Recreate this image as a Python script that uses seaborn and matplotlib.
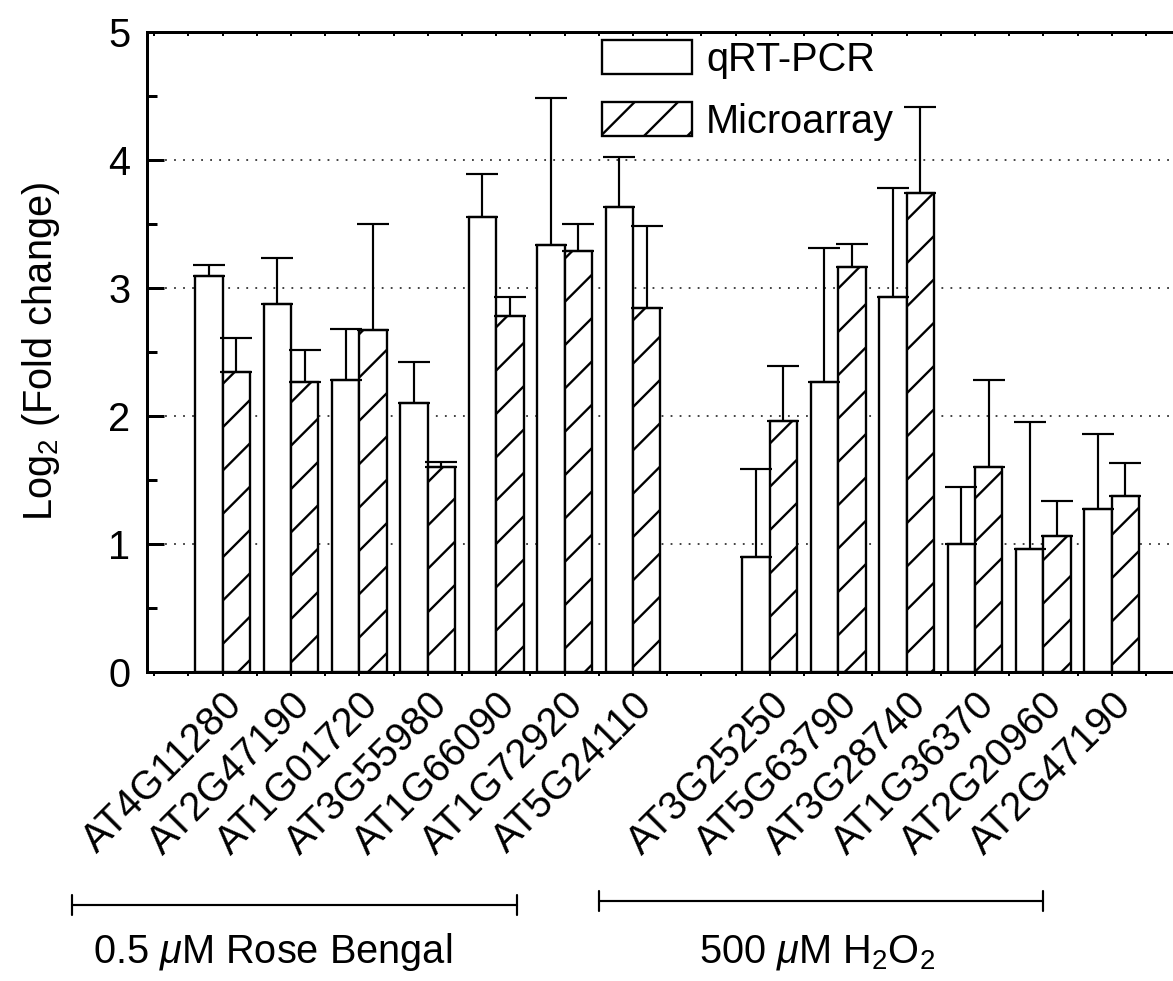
import numpy as np
import pandas as pd
import matplotlib
matplotlib.use("Agg")
import matplotlib.pyplot as plt
import matplotlib.patches as mpatches
from matplotlib.ticker import MultipleLocator
from matplotlib.transforms import blended_transform_factory
import seaborn as sns

# Data
genes = ["AT4G11280", "AT2G47190", "AT1G01720", "AT3G55980", "AT1G66090", "AT1G72920", "AT5G24110",
         "AT3G25250", "AT5G63790", "AT3G28740", "AT1G36370", "AT2G20960", "AT2G47190"]
positions = [1, 2, 3, 4, 5, 6, 7, 9, 10, 11, 12, 13, 14]
qrt_pcr = [3.09, 2.87, 2.28, 2.10, 3.55, 3.33, 3.63, 0.90, 2.26, 2.93, 1.00, 0.96, 1.27]
qrt_err = [0.09, 0.36, 0.40, 0.32, 0.34, 1.15, 0.39, 0.68, 1.05, 0.85, 0.44, 0.99, 0.59]
microarray = [2.34, 2.26, 2.67, 1.60, 2.78, 3.29, 2.84, 1.96, 3.16, 3.74, 1.60, 1.06, 1.37]
micro_err = [0.27, 0.25, 0.83, 0.04, 0.15, 0.21, 0.64, 0.43, 0.18, 0.67, 0.68, 0.27, 0.26]
series = ["qRT-PCR", "Microarray"]
groups = ["0.5 $\\mu$M Rose Bengal", "500 $\\mu$M H$_2$O$_2$"]

df = pd.DataFrame({
    "pos": positions * 2,
    "value": qrt_pcr + microarray,
    "series": [series[0]] * len(genes) + [series[1]] * len(genes),
})

sns.set_theme(style="white")
plt.rcParams["font.family"] = ["Liberation Sans", "DejaVu Sans"]
plt.rcParams["mathtext.fontset"] = "custom"
plt.rcParams["mathtext.rm"] = "Liberation Sans"
plt.rcParams["mathtext.it"] = "Liberation Sans:italic"
plt.rcParams["hatch.linewidth"] = 1.3
plt.rcParams["text.color"] = "black"
plt.rcParams["axes.labelcolor"] = "black"
plt.rcParams["xtick.color"] = "black"
plt.rcParams["ytick.color"] = "black"

DPI = 130
fig = plt.figure(figsize=(1173 / DPI, 981 / DPI), dpi=DPI)
ax = fig.add_axes([147.3 / 1173, 309.3 / 981, 1039.7 / 1173, 640 / 981])

sns.barplot(data=df, x="pos", y="value", hue="series", native_scale=True, width=0.8,
            errorbar=None, palette=["white", "white"], saturation=1,
            edgecolor="black", linewidth=1.3, legend=False, ax=ax)
for bar in ax.containers[1]:
    bar.set_hatch("/")

pos = np.array(positions, dtype=float)
ax.errorbar(pos - 0.2, qrt_pcr, yerr=[np.zeros(len(pos)), qrt_err], fmt="none",
            ecolor="black", elinewidth=1.2, capsize=8.9, capthick=1.2, zorder=3)
ax.errorbar(pos + 0.2, microarray, yerr=[np.zeros(len(pos)), micro_err], fmt="none",
            ecolor="black", elinewidth=1.2, capsize=8.9, capthick=1.2, zorder=3)

ax.set_xlim(-0.1, 15.1)
ax.set_ylim(0, 5)

# axes look
for s in ax.spines.values():
    s.set_linewidth(1.66)
    s.set_color("black")
ax.spines["right"].set_visible(False)

ax.yaxis.set_major_locator(MultipleLocator(1))
ax.yaxis.set_minor_locator(MultipleLocator(0.5))
ax.tick_params(axis="y", which="major", direction="in", length=9.4, width=1.66,
               labelsize=22, pad=9.4, left=True, colors="black")
ax.tick_params(axis="y", which="minor", direction="in", length=5.5, width=1.66, left=True)

ax.set_xticks(positions)
ax.set_xticklabels(genes, rotation=45, ha="right", va="top", rotation_mode="anchor")
ax.xaxis.set_minor_locator(MultipleLocator(0.5))
ax.tick_params(axis="x", which="both", direction="out", length=2.2, width=1.1,
               labelsize=22, pad=5.5, bottom=True, colors="black")

top = ax.secondary_xaxis("top")
top.xaxis.set_major_locator(MultipleLocator(0.5))
top.tick_params(axis="x", direction="in", length=2.2, width=1.1, labeltop=False)
top.spines["top"].set_linewidth(1.66)

ax.grid(axis="y", which="major", color="0.2", linestyle=(0, (1, 4)), linewidth=1.0)
ax.set_axisbelow(True)

ax.set_xlabel("")
ax.set_ylabel("Log$_2$ (Fold change)", fontsize=22, color="black")
ax.yaxis.set_label_coords(-0.082, 0.5)

handles = [
    mpatches.Patch(facecolor="white", edgecolor="black", linewidth=1.3, label=series[0]),
    mpatches.Patch(facecolor="white", edgecolor="black", linewidth=1.3, hatch="/", label=series[1]),
]
leg = ax.legend(handles=handles, loc="upper left", bbox_to_anchor=(602 / 1173, 1 - 40 / 981),
                bbox_transform=fig.transFigure, frameon=False, fontsize=22,
                handlelength=2.27, handleheight=0.95, handletextpad=0.35,
                labelspacing=0.58, borderpad=0, borderaxespad=0)
for t in leg.get_texts():
    t.set_color("black")

# treatment brackets under the gene names
trans = blended_transform_factory(ax.transData, fig.transFigure)
spans = [(-1.2, 5.3), (6.5, 13.0)]
line_y = [1 - 905 / 981, 1 - 901 / 981]
text_x = [-0.89, 7.97]
for (x0, x1), yl, tx, name in zip(spans, line_y, text_x, groups):
    ax.plot([x0, x1], [yl, yl], transform=trans, clip_on=False, color="black", lw=1.2)
    for xe in (x0, x1):
        ax.plot([xe, xe], [yl - 0.0102, yl + 0.0102], transform=trans, clip_on=False,
                color="black", lw=1.2)
    ax.text(tx, 18 / 981, name, transform=trans, ha="left", va="baseline", fontsize=22,
            color="black")

fig.savefig("out.png", dpi=DPI)
